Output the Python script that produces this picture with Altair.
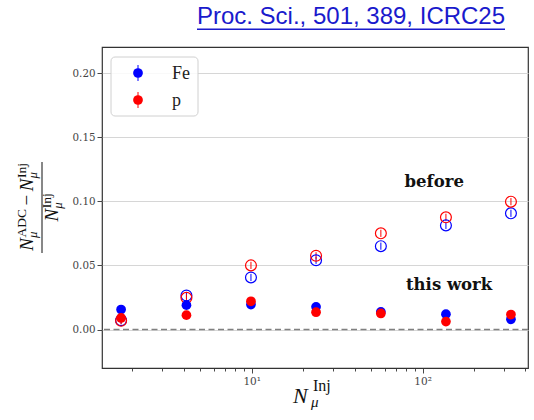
import altair as alt
import pandas as pd

# ---------------- data ----------------
n_inj = [1.72, 4.15, 9.9, 23.8, 57.0, 137.0, 329.0]

fe_this_work = [0.0156, 0.0190, 0.0195, 0.0177, 0.0138, 0.0120, 0.0080]
p_this_work = [0.0090, 0.0112, 0.0220, 0.0135, 0.0125, 0.0062, 0.0117]
fe_this_err = [0.0015, 0.0015, 0.0015, 0.0015, 0.0015, 0.0015, 0.0015]
p_this_err = [0.0015, 0.0015, 0.0015, 0.0015, 0.0015, 0.0015, 0.0015]

fe_before = [0.0072, 0.0265, 0.0406, 0.0540, 0.0650, 0.0812, 0.0906]
p_before = [0.0068, 0.0247, 0.0500, 0.0575, 0.0750, 0.0875, 0.0997]
fe_before_err = [0.0028, 0.0028, 0.0028, 0.0028, 0.0028, 0.0028, 0.0028]
p_before_err = [0.0028, 0.0028, 0.0028, 0.0028, 0.0028, 0.0028, 0.0028]

series_names = ["Fe", "p"]
series_colors = ["#0000ff", "#ff0000"]

y_ticks = [0.0, 0.05, 0.10, 0.15, 0.20]
x_ticks = [2, 3, 4, 5, 6, 7, 8, 9, 10, 20, 30, 40, 50, 60, 70, 80, 90, 100,
           200, 300, 400]
zero_level = [0.0]

ann_text = ["before", "this work"]
ann_x = [117.0, 143.0]
ann_y = [0.115, 0.0346]

citation = "Proc. Sci., 501, 389, ICRC25"


def frame(vals, errs, name):
    return pd.DataFrame({
        "x": n_inj,
        "y": vals,
        "lo": [v - e for v, e in zip(vals, errs)],
        "hi": [v + e for v, e in zip(vals, errs)],
        "series": name,
    })


before_df = pd.concat([frame(fe_before, fe_before_err, "Fe"),
                       frame(p_before, p_before_err, "p")])
this_df = pd.concat([frame(fe_this_work, fe_this_err, "Fe"),
                     frame(p_this_work, p_this_err, "p")])
zero_df = pd.DataFrame({"z": zero_level})
ann_df = pd.DataFrame({"t": ann_text, "x": ann_x, "y": ann_y})
dummy = pd.DataFrame({"k": [0]})

# ---------------- scales / axes ----------------
xs = alt.Scale(type="log", domain=[1.33, 414], nice=False)
ys = alt.Scale(domain=[-0.030, 0.2203], nice=False, zero=False)

x_axis = alt.Axis(
    values=x_ticks, title=None, grid=False, domain=False,
    labelExpr="datum.value == 10 ? '10¹' : (datum.value == 100 ? '10²' : '')",
    labelFont="DejaVu Serif", labelFontSize=10.5, labelColor="#444",
    labelPadding=3, labelOverlap=False, labelFlush=False,
    tickColor="#333", tickWidth=0.9,
    tickSize={"condition": {"test": "datum.value == 10 || datum.value == 100", "value": 5}, "value": 3},
)
y_axis = alt.Axis(
    values=y_ticks, format=".2f", title=None, domain=False,
    grid=True, gridColor="#d6d6d6", gridWidth=1,
    labelFont="DejaVu Serif", labelFontSize=10.3, labelColor="#444",
    labelPadding=2, tickColor="#333", tickSize=5, tickWidth=0.9,
)

col_scale = alt.Scale(domain=series_names, range=series_colors)


def X(field="x"):
    return alt.X(f"{field}:Q", scale=xs, axis=x_axis)


def Y(field="y"):
    return alt.Y(f"{field}:Q", scale=ys, axis=y_axis)


COLOR = alt.Color("series:N", scale=col_scale, legend=None)

# ---------------- layers ----------------
zero_line = alt.Chart(zero_df).mark_rule(
    color="#808080", strokeDash=[6, 3.5], strokeWidth=1.4
).encode(y=Y("z"))

before_err = alt.Chart(before_df).mark_rule(strokeWidth=1).encode(
    x=X(), y=Y("lo"), y2="hi", color=COLOR)
before_pts = alt.Chart(before_df).mark_point(
    filled=False, shape="circle", size=118, strokeWidth=1.2, opacity=1
).encode(x=X(), y=Y(), color=COLOR)
this_err = alt.Chart(this_df).mark_rule(strokeWidth=1).encode(
    x=X(), y=Y("lo"), y2="hi", color=COLOR)
this_pts = alt.Chart(this_df).mark_point(
    filled=True, shape="circle", size=95, opacity=1
).encode(x=X(), y=Y(), color=COLOR)

annotations = alt.Chart(ann_df).mark_text(
    font="DejaVu Serif", fontWeight="bold", fontSize=16.5,
    align="center", baseline="middle", color="#111"
).encode(x=X(), y=Y(), text="t:N")


def label(s, x, y, size, font="Liberation Serif", style="normal",
          angle=0, align="left", color="#111"):
    return alt.Chart(dummy).mark_text(
        font=font, fontSize=size, fontStyle=style, angle=angle,
        align=align, baseline="alphabetic", color=color
    ).encode(x=alt.value(x), y=alt.value(y), text=alt.value(s))


# ---- legend (drawn by hand, upper left) ----
legend_box = alt.Chart(dummy).mark_rect(
    fill="white", fillOpacity=0.85, stroke="#d0d0d0", strokeWidth=1, cornerRadius=4
).encode(x=alt.value(9), x2=alt.value(96), y=alt.value(10), y2=alt.value(69))
legend_items = []
for i, (name, col) in enumerate(zip(series_names, series_colors)):
    cy = 26 + 27 * i
    legend_items.append(
        alt.Chart(dummy).mark_rule(color=col, strokeWidth=1).encode(
            x=alt.value(36), y=alt.value(cy - 8), y2=alt.value(cy + 8)))
    legend_items.append(
        alt.Chart(dummy).mark_point(filled=True, shape="circle", size=95,
                                    color=col, opacity=1).encode(
            x=alt.value(36), y=alt.value(cy)))
    legend_items.append(label(name, 70, cy + 5.5, 18, color="#222"))

# y-axis title: fraction (N_mu^ADC - N_mu^Inj) / N_mu^Inj, rotated
# (screen coordinates minus plot origin at (102, 47))
OX, OY = 102, 47
ylab_specs = [
    ("N", 33, 250.8, 19, "italic"),
    ("μ", 37, 238.1, 13, "italic"),
    ("ADC", 25.5, 237.5, 13.5, "normal"),
    ("−", 33, 205.5, 19, "normal"),
    ("N", 33, 191.3, 19, "italic"),
    ("μ", 37, 178.6, 13, "italic"),
    ("Inj", 25.5, 178, 13.5, "normal"),
    ("N", 58, 221.4, 19, "italic"),
    ("μ", 62, 208.7, 13, "italic"),
    ("Inj", 50.5, 208.2, 13.5, "normal"),
]
ylab = [label(s, x - OX, y - OY, size, style=st, angle=270)
        for s, x, y, size, st in ylab_specs]
frac_bar = alt.Chart(dummy).mark_rule(color="#111", strokeWidth=1).encode(
    x=alt.value(42 - OX), y=alt.value(162 - OY), y2=alt.value(253 - OY)
)

# x-axis title N_mu^Inj
xlab = [
    label("N", 191, 356, 22, style="italic"),
    label("μ", 209, 360, 15, style="italic"),
    label("Inj", 211, 344, 16),
]

# citation link-like text on top
cite = label(citation, 249, -23, 24, font="Liberation Sans", align="center",
             color="#1a1acc")
cite_line = alt.Chart(dummy).mark_rule(color="#1a1acc", strokeWidth=1.5).encode(
    x=alt.value(95), x2=alt.value(403), y=alt.value(-17.7)
)

chart = alt.layer(
    zero_line, before_err, before_pts, this_err, this_pts, annotations,
    legend_box, *legend_items,
    frac_bar, *ylab, *xlab, cite, cite_line,
).properties(
    width=426, height=321,
    autosize=alt.AutoSizeParams(type="none"),
    padding={"left": 102, "top": 47, "right": 6, "bottom": 52},
    background="white",
).configure_view(stroke="#333", strokeWidth=1.2)

chart.save("out.html", embed_options={"renderer": "svg", "actions": False})
